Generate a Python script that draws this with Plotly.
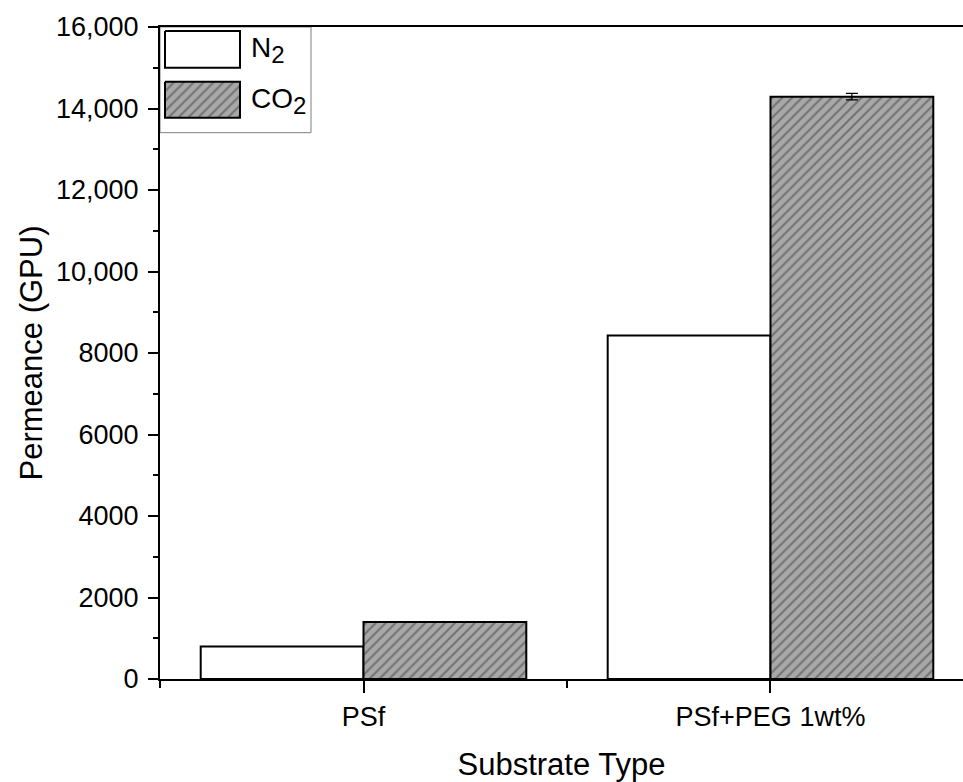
import plotly.graph_objects as go

# ---- data ----
categories = ["PSf", "PSf+PEG 1wt%"]
n2_values = [800, 8430]
co2_values = [1400, 14290]
co2_errors = [0, 80]
y_tickvals = [0, 2000, 4000, 6000, 8000, 10000, 12000, 14000, 16000]
y_ticktext = ["0", "2000", "4000", "6000", "8000", "10,000", "12,000", "14,000", "16,000"]
series_names = ["N<sub><span style='font-size:24px'>2</span></sub>",
                "CO<sub><span style='font-size:24px'>2</span></sub>"]

x_pos = list(range(len(categories)))

FONT = "Liberation Sans, Arial, sans-serif"
GRAY = "#a8a8a8"
HATCH = dict(shape="/", fgcolor="#3a3a3a", bgcolor=GRAY, size=7, solidity=0.28)

fig = go.Figure()
fig.add_trace(go.Bar(
    x=x_pos, y=n2_values, name="N2", showlegend=False,
    marker=dict(color="white", line=dict(color="black", width=2)),
))
fig.add_trace(go.Bar(
    x=x_pos, y=co2_values, name="CO2", showlegend=False,
    marker=dict(color=GRAY, line=dict(color="black", width=2), pattern=HATCH),
    error_y=dict(type="data", array=co2_errors, color="black", thickness=1.2, width=6),
))

# ---- custom legend (pixel-space overlay axes) ----
def rect(x0, y0, x1, y1):
    return [x0, x1, x1, x0, x0], [y0, y0, y1, y1, y0]

lx, ly = rect(165, 31, 240, 68)
fig.add_trace(go.Scatter(x=lx, y=ly, fill="toself", fillcolor="white", mode="lines",
                         line=dict(color="black", width=2), xaxis="x2", yaxis="y2",
                         showlegend=False, hoverinfo="skip"))
lx, ly = rect(165, 82, 240, 118)
fig.add_trace(go.Scatter(x=lx, y=ly, fill="toself", fillcolor=GRAY, fillpattern=HATCH, mode="lines",
                         line=dict(color="black", width=2), xaxis="x2", yaxis="y2",
                         showlegend=False, hoverinfo="skip"))
fig.add_shape(type="rect", xref="x2", yref="y2", x0=160, x1=311, y0=27, y1=133,
              line=dict(color="#7f7f7f", width=1), fillcolor="rgba(0,0,0,0)")
for name, yc in zip(series_names, [50, 101]):
    fig.add_annotation(x=249, y=yc, xref="x2", yref="y2", text=name, showarrow=False,
                       xanchor="left", yanchor="middle", font=dict(family=FONT, size=28, color="black"))

fig.update_layout(
    width=963, height=782,
    margin=dict(l=160, r=0, t=27, b=101, pad=0),
    plot_bgcolor="white", paper_bgcolor="white",
    barmode="group", bargap=0.2, bargroupgap=0,
    font=dict(family=FONT, color="black"),
    xaxis=dict(
        range=[-0.5, 1.473], tickmode="array", tickvals=x_pos, ticktext=categories,
        showline=True, linecolor="black", linewidth=2, mirror=True,
        ticks="outside", ticklen=12, tickwidth=2, tickcolor="black",
        ticklabelstandoff=1,
        minor=dict(tickmode="array", tickvals=[-0.5, 0.5, 1.5], ticks="outside", ticklen=7, tickwidth=2, tickcolor="black"),
        showgrid=False, zeroline=False,
        tickfont=dict(family=FONT, size=27, color="black"),
        title=dict(text="Substrate Type", font=dict(family=FONT, size=31, color="black"), standoff=28),
    ),
    yaxis=dict(
        range=[0, 16000], tickmode="array", tickvals=y_tickvals, ticktext=y_ticktext,
        showline=True, linecolor="black", linewidth=2,
        ticks="outside", ticklen=10, tickwidth=2, tickcolor="black",
        ticklabelstandoff=4,
        minor=dict(tickmode="linear", tick0=0, dtick=1000, ticks="outside", ticklen=5, tickwidth=1.5, tickcolor="black"),
        showgrid=False, zeroline=False,
        tickfont=dict(family=FONT, size=27, color="black"),
        title=dict(text="Permeance (GPU)", font=dict(family=FONT, size=31, color="black"), standoff=4),
    ),
    xaxis2=dict(overlaying="x", range=[160, 963], visible=False, fixedrange=True),
    yaxis2=dict(overlaying="y", range=[681, 27], visible=False, fixedrange=True),
)

fig.write_html("out.html")
